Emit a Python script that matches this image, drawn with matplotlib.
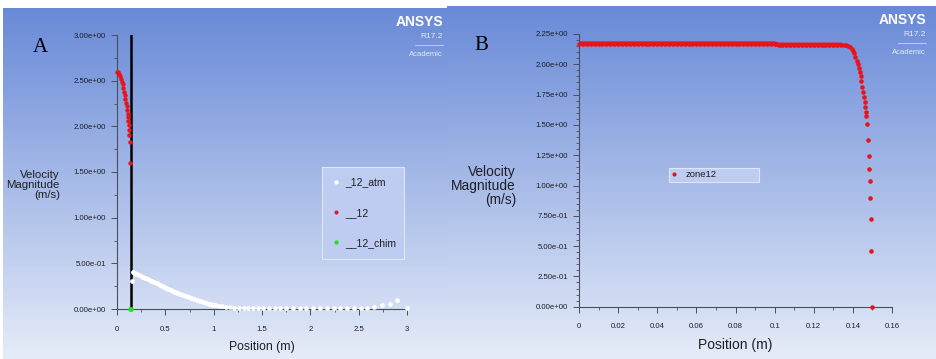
import numpy as np
import matplotlib.pyplot as plt
from matplotlib.lines import Line2D
from matplotlib.ticker import MultipleLocator, FuncFormatter

# ---- data, panel A ----
a_red_x = [0.003, 0.012, 0.022, 0.032, 0.042, 0.051, 0.059, 0.067, 0.074, 0.081, 0.087,
           0.093, 0.099, 0.104, 0.109, 0.113, 0.117, 0.121, 0.125, 0.128, 0.131, 0.134]
a_red_y = [2.60, 2.59, 2.57, 2.55, 2.52, 2.49, 2.46, 2.42, 2.38, 2.34, 2.30,
           2.26, 2.22, 2.18, 2.14, 2.10, 2.06, 2.01, 1.96, 1.90, 1.83, 1.60]

a_atm_x = [0.155, 0.17, 0.20, 0.23, 0.26, 0.29, 0.32, 0.35, 0.38, 0.41,
           0.44, 0.47, 0.50, 0.53, 0.56, 0.59, 0.62, 0.65, 0.68, 0.71,
           0.74, 0.77, 0.80, 0.83, 0.86, 0.89, 0.92, 0.95, 0.98, 1.01,
           1.05, 1.09, 1.13, 1.17, 1.21, 1.26, 1.31, 1.36, 1.41, 1.46,
           1.51, 1.57, 1.63, 1.69, 1.75, 1.82, 1.89, 1.96, 2.03, 2.10,
           2.17, 2.24, 2.31, 2.38, 2.45, 2.52, 2.59, 2.66, 2.74, 2.82,
           2.90, 3.00]
a_atm_y = [0.31, 0.40, 0.385, 0.37, 0.355, 0.34, 0.325, 0.31, 0.295, 0.28,
           0.265, 0.25, 0.235, 0.22, 0.205, 0.19, 0.177, 0.164, 0.151, 0.139,
           0.127, 0.116, 0.105, 0.094, 0.084, 0.074, 0.065, 0.056, 0.048, 0.041,
           0.034, 0.028, 0.023, 0.019, 0.016, 0.014, 0.012, 0.011, 0.010, 0.010,
           0.010, 0.010, 0.010, 0.010, 0.010, 0.010, 0.010, 0.010, 0.010, 0.011,
           0.012, 0.013, 0.014, 0.013, 0.012, 0.010, 0.012, 0.025, 0.040, 0.060,
           0.100, 0.010]
a_atm_dense = 30   # first points sit so close they read as a band

a_chim_x = [0.13, 0.14]
a_chim_y = [0.0, 0.0]
a_wall_x = 0.14   # black vertical line
a_labels = ['_12_atm', '__12', '__12_chim']

# ---- data, panel B ----
b_flat_x = [0.000, 0.002, 0.004, 0.006, 0.008, 0.010, 0.012, 0.014, 0.016, 0.018,
            0.020, 0.022, 0.024, 0.026, 0.028, 0.030, 0.032, 0.034, 0.036, 0.038,
            0.040, 0.042, 0.044, 0.046, 0.048, 0.050, 0.052, 0.054, 0.056, 0.058,
            0.060, 0.062, 0.064, 0.066, 0.068, 0.070, 0.072, 0.074, 0.076, 0.078,
            0.080, 0.082, 0.084, 0.086, 0.088, 0.090, 0.092, 0.094, 0.096, 0.098,
            0.100, 0.102, 0.104, 0.106, 0.108, 0.110, 0.112, 0.114, 0.116, 0.118,
            0.120, 0.122, 0.124, 0.126, 0.128, 0.130, 0.132, 0.134]
b_flat_y = [2.17] * 51 + [2.16] * 17

b_drop_x = [0.1355, 0.1365, 0.1375, 0.1385, 0.1393, 0.1400, 0.1407, 0.1413, 0.1419, 0.1425,
            0.1430, 0.1435, 0.1440, 0.1444, 0.1448, 0.1452, 0.1456, 0.1460, 0.1463, 0.1466,
            0.1469, 0.1472, 0.1476, 0.1480, 0.1484, 0.1486, 0.1489, 0.1492, 0.1495, 0.1498]
b_drop_y = [2.16, 2.158, 2.155, 2.145, 2.13, 2.11, 2.09, 2.06, 2.03, 2.00,
            1.97, 1.94, 1.90, 1.86, 1.815, 1.774, 1.733, 1.69, 1.65, 1.61,
            1.57, 1.51, 1.375, 1.24, 1.14, 1.037, 0.90, 0.72, 0.46, 0.0]

# ---- style ----
plt.rcParams['font.family'] = ['Liberation Sans', 'DejaVu Sans']
red = '#e8141c'
spine_col = '#4a4e5c'
txt_col = '#1e1e24'

W, H = 936, 359
fig = plt.figure(figsize=(W / 100, H / 100), dpi=100)
fig.patch.set_facecolor('white')

grad = np.linspace(0, 1, 256).reshape(-1, 1)
top = np.array([0.41, 0.54, 0.845])
bot = np.array([0.90, 0.925, 0.975])
img = top + (bot - top) * grad[:, :, None] * np.ones((1, 2, 1))


def px(x0, y0, x1, y1):
    # pixel box (top-left origin) -> figure fraction rect
    return [x0 / W, 1 - y1 / H, (x1 - x0) / W, (y1 - y0) / H]


def background(rect):
    bg = fig.add_axes(rect)
    bg.imshow(img, aspect='auto', extent=[0, 1, 0, 1], origin='upper')
    bg.set_axis_off()


def sci(v, pos):
    return '{:.2e}'.format(v)


def style_axes(ax, tsize):
    ax.set_facecolor('none')
    for s in ['top', 'right']:
        ax.spines[s].set_visible(False)
    for s in ['left', 'bottom']:
        ax.spines[s].set_color(spine_col)
        ax.spines[s].set_linewidth(0.8)
    ax.tick_params(which='major', length=4, width=0.7, color=spine_col,
                   labelsize=tsize, labelcolor=txt_col)
    ax.tick_params(which='minor', length=2.5, width=0.6, color=spine_col)
    ax.tick_params(axis='x', pad=8)
    ax.tick_params(axis='y', pad=4)
    ax.yaxis.set_major_formatter(FuncFormatter(sci))


def style_legend(leg):
    fr = leg.get_frame()
    fr.set_facecolor((0.74, 0.80, 0.94, 0.35))
    fr.set_edgecolor('#dfe6f6')
    fr.set_linewidth(0.8)
    for t in leg.get_texts():
        t.set_color(txt_col)


def logo(xr, y_top):
    fig.text(xr / W, 1 - (y_top + 8) / H, 'ANSYS', color='white', fontsize=10,
             fontweight='bold', ha='right', va='center')
    fig.text(xr / W, 1 - (y_top + 23) / H, 'R17.2', color='#e4eaf8', fontsize=6,
             ha='right', va='center')
    fig.add_artist(Line2D([(xr - 28) / W, xr / W], [1 - (y_top + 31) / H] * 2,
                          color='#c8d4f0', lw=0.6))
    fig.text(xr / W, 1 - (y_top + 40) / H, 'Academic', color='#e4eaf8', fontsize=5.5,
             ha='right', va='center')


# ---- panel A ----
background(px(3, 8, 447, 359))
axA = fig.add_axes(px(117, 35, 407, 309))
style_axes(axA, 5.6)
axA.set_xlim(0, 3)
axA.set_ylim(0, 3)
axA.xaxis.set_major_locator(MultipleLocator(0.5))
axA.xaxis.set_minor_locator(MultipleLocator(0.25))
axA.yaxis.set_major_locator(MultipleLocator(0.5))
axA.yaxis.set_minor_locator(MultipleLocator(0.25))
axA.xaxis.set_major_formatter(FuncFormatter(lambda v, p: '{:g}'.format(v)))

axA.axvline(a_wall_x, color='black', lw=1.8, zorder=2)
axA.plot(a_atm_x[1:a_atm_dense], a_atm_y[1:a_atm_dense], '-', color='white', lw=3.0,
         solid_capstyle='round', zorder=3)
h_atm, = axA.plot(a_atm_x, a_atm_y, 'o', color='white', ms=3.4, mec='none',
                  clip_on=False, zorder=3)
h_red, = axA.plot(a_red_x, a_red_y, 'o', color=red, ms=3.2, mec='none',
                  clip_on=False, zorder=3)
h_chim, = axA.plot(a_chim_x, a_chim_y, 'o', color='#22e022', ms=3.4, mec='none',
                   clip_on=False, zorder=4)

legA = axA.legend([h_atm, h_red, h_chim], a_labels, loc='upper left',
                  bbox_to_anchor=(0.707, 0.186, 0.283, 0.332), mode='expand',
                  borderaxespad=0, fontsize=7.5, labelspacing=1.95, handlelength=0.6,
                  handletextpad=0.6, borderpad=1.0, markerscale=0.9,
                  fancybox=False, framealpha=1)
style_legend(legA)

fig.text(60 / W, 1 - 185 / H, 'Velocity\nMagnitude\n(m/s)', ha='right', va='center',
         fontsize=8.2, linespacing=1.0, color=txt_col)
fig.text(262 / W, 1 - 347 / H, 'Position (m)', ha='center', va='center',
         fontsize=8.8, color=txt_col)
fig.text(40 / W, 1 - 47 / H, 'A', ha='center', va='center', fontsize=15,
         family=['Liberation Serif', 'DejaVu Serif'], color='black')
logo(443, 14)

# ---- panel B ----
background(px(447, 6, 936, 359))
axB = fig.add_axes(px(579, 34, 892, 306.7))
style_axes(axB, 5.6)
axB.set_xlim(0, 0.16)
axB.set_ylim(0, 2.25)
axB.xaxis.set_major_locator(MultipleLocator(0.02))
axB.xaxis.set_minor_locator(MultipleLocator(0.01))
axB.yaxis.set_major_locator(MultipleLocator(0.25))
axB.yaxis.set_minor_locator(MultipleLocator(0.05))
axB.xaxis.set_major_formatter(FuncFormatter(lambda v, p: '{:g}'.format(round(v, 3))))

axB.plot(b_flat_x, b_flat_y, '-', color=red, lw=3.4, solid_capstyle='round', zorder=3)
axB.plot(b_flat_x + b_drop_x, b_flat_y + b_drop_y, 'o', color=red, ms=3.3, mec='none',
         label='zone12', clip_on=False, zorder=3)

legB = axB.legend(loc='upper left', bbox_to_anchor=(0.2875, 0.457, 0.2875, 0.052),
                  mode='expand', borderaxespad=0, fontsize=6.8, handlelength=0.6,
                  handletextpad=0.9, borderpad=0.25, markerscale=0.9,
                  fancybox=False, framealpha=1)
style_legend(legB)

fig.text(516 / W, 1 - 186 / H, 'Velocity\nMagnitude\n(m/s)', ha='right', va='center',
         fontsize=9.9, linespacing=1.0, color=txt_col)
fig.text(735 / W, 1 - 345 / H, 'Position (m)', ha='center', va='center',
         fontsize=10, color=txt_col)
fig.text(481 / W, 1 - 45 / H, 'B', ha='center', va='center', fontsize=15,
         family=['Liberation Serif', 'DejaVu Serif'], color='black')
logo(926, 12)

fig.savefig('out.png', dpi=100)
